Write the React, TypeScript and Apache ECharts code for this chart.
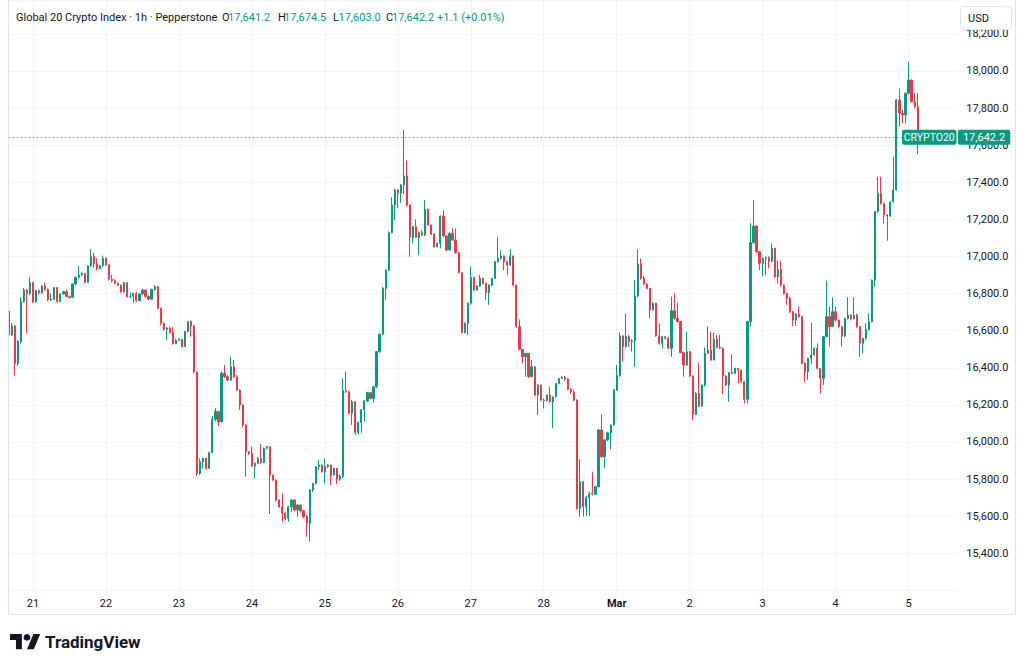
import React, { useEffect, useRef } from "react";
import * as echarts from "echarts";

// ---------- data (hourly candles; open = previous close) ----------
// each entry: [close, low, high]
const firstOpen = 16706;
const startUTC = Date.UTC(2025, 1, 20, 16); // first candle: 20 Feb 16:00

const feb20 = [
  [16577, 16570, 16712], [16625, 16570, 16640], [16424, 16356, 16630], [16541, 16410, 16550],
  [16757, 16530, 16780], [16819, 16750, 16830], [16801, 16586, 16825], [16859, 16790, 16888],
];
const feb21 = [
  [16757, 16750, 16862], [16815, 16750, 16822], [16805, 16795, 16822], [16841, 16798, 16845],
  [16822, 16815, 16858], [16766, 16760, 16828], [16770, 16760, 16800], [16832, 16765, 16836],
  [16757, 16750, 16835], [16798, 16755, 16800], [16810, 16795, 16815], [16785, 16780, 16823],
  [16780, 16772, 16790], [16852, 16775, 16855], [16888, 16846, 16892], [16900, 16880, 16949],
  [16909, 16895, 16915], [16860, 16855, 16912], [16949, 16858, 16952], [16999, 16945, 17039],
  [16960, 16940, 17020], [16935, 16925, 16990], [16950, 16930, 16955], [16990, 16945, 17005],
];
const feb22 = [
  [16955, 16950, 16995], [16877, 16870, 16958], [16870, 16860, 16900], [16855, 16850, 16878],
  [16846, 16840, 16860], [16810, 16805, 16848], [16859, 16805, 16862], [16783, 16778, 16862],
  [16785, 16775, 16805], [16801, 16751, 16805], [16762, 16755, 16810], [16798, 16760, 16800],
  [16819, 16795, 16825], [16785, 16778, 16820], [16770, 16765, 16790], [16823, 16768, 16826],
  [16837, 16815, 16845], [16721, 16715, 16840], [16640, 16630, 16725], [16607, 16600, 16645],
  [16615, 16550, 16620], [16590, 16585, 16620], [16530, 16525, 16618], [16548, 16528, 16555],
];
const feb23 = [
  [16553, 16545, 16558], [16514, 16510, 16555], [16595, 16512, 16600], [16649, 16590, 16652],
  [16625, 16568, 16655], [16377, 16370, 16630], [15831, 15817, 16380], [15894, 15822, 15912],
  [15912, 15858, 15915], [15858, 15849, 15915], [15943, 15855, 15948], [16122, 15940, 16140],
  [16164, 16110, 16182], [16110, 16086, 16164], [16370, 16105, 16379], [16352, 16345, 16415],
  [16334, 16328, 16360], [16406, 16330, 16460], [16352, 16345, 16442], [16280, 16275, 16361],
  [16200, 16173, 16285], [16092, 16079, 16205], [15948, 15813, 16095], [15939, 15930, 15950],
];
const feb24 = [
  [15870, 15865, 15975], [15885, 15804, 15890], [15912, 15880, 15918], [15890, 15880, 15989],
  [15966, 15885, 15970], [15975, 15960, 15979], [15822, 15612, 15976], [15795, 15790, 15825],
  [15687, 15680, 15798], [15651, 15645, 15690], [15616, 15571, 15723], [15589, 15580, 15620],
  [15651, 15571, 15655], [15687, 15624, 15692], [15633, 15625, 15690], [15660, 15598, 15665],
  [15630, 15620, 15662], [15598, 15590, 15633], [15562, 15490, 15607], [15741, 15463, 15745],
  [15777, 15730, 15780], [15867, 15770, 15870], [15876, 15850, 15903], [15840, 15835, 15878],
];
const feb25 = [
  [15867, 15777, 15912], [15876, 15860, 15880], [15822, 15768, 15878], [15858, 15820, 15862],
  [15800, 15774, 15860], [15815, 15790, 15825], [16277, 15805, 16343], [16271, 16265, 16379],
  [16155, 16150, 16277], [16217, 16092, 16226], [16050, 16038, 16220], [16105, 16040, 16110],
  [16173, 16050, 16178], [16221, 16110, 16226], [16266, 16215, 16270], [16235, 16230, 16266],
  [16298, 16212, 16300], [16487, 16290, 16490], [16581, 16480, 16585], [16828, 16575, 16835],
  [16927, 16766, 16930], [17129, 16920, 17135], [17278, 17125, 17319], [17359, 17197, 17365],
];
const feb26 = [
  [17341, 17260, 17362], [17386, 17290, 17390], [17434, 17337, 17682], [17278, 17270, 17517],
  [17103, 16999, 17280], [17161, 17071, 17165], [17103, 17100, 17200], [17129, 17008, 17135],
  [17116, 17110, 17143], [17254, 17110, 17305], [17170, 17165, 17258], [17121, 17115, 17172],
  [17053, 17048, 17125], [17071, 17050, 17075], [17218, 17044, 17222], [17111, 17105, 17251],
  [17035, 17030, 17116], [17125, 17039, 17130], [17089, 17085, 17152], [17021, 17015, 17152],
  [16913, 16908, 17025], [16590, 16585, 16918], [16640, 16585, 16645], [16748, 16577, 16752],
];
const feb27 = [
  [16888, 16739, 16945], [16819, 16815, 16890], [16841, 16815, 16845], [16882, 16837, 16900],
  [16855, 16850, 16885], [16805, 16766, 16858], [16846, 16739, 16850], [16882, 16840, 16885],
  [16972, 16880, 16975], [16990, 16965, 17103], [17003, 16985, 17035], [16972, 16927, 17005],
  [16954, 16900, 16975], [17003, 16950, 17039], [16846, 16840, 17005], [16622, 16615, 16850],
  [16500, 16495, 16661], [16460, 16424, 16500], [16478, 16352, 16480], [16352, 16345, 16478],
  [16406, 16350, 16442], [16253, 16248, 16406], [16307, 16146, 16310], [16226, 16220, 16307],
];
const feb28 = [
  [16223, 16182, 16235], [16253, 16220, 16256], [16218, 16212, 16298], [16244, 16074, 16246],
  [16316, 16240, 16318], [16343, 16310, 16345], [16349, 16340, 16356], [16340, 16330, 16356],
  [16284, 16280, 16345], [16270, 16260, 16290], [16226, 16220, 16280], [15642, 15635, 16230],
  [15786, 15598, 15907], [15651, 15598, 15790], [15700, 15601, 15710], [15723, 15601, 15730],
  [15718, 15712, 15840], [15759, 15715, 15765], [16065, 15755, 16070], [15921, 15915, 16149],
  [16011, 15858, 16015], [16050, 16005, 16055], [16092, 15960, 16095], [16280, 16088, 16285],
];
const mar1 = [
  [16358, 16275, 16415], [16572, 16350, 16590], [16514, 16433, 16575], [16568, 16510, 16690],
  [16541, 16514, 16577], [16546, 16487, 16555], [16787, 16406, 16873], [16960, 16780, 17039],
  [16882, 16875, 16990], [16852, 16845, 16895], [16828, 16822, 16855], [16712, 16667, 16830],
  [16748, 16708, 16752], [16573, 16568, 16750], [16532, 16525, 16640], [16568, 16505, 16572],
  [16559, 16552, 16570], [16505, 16500, 16568], [16708, 16460, 16784], [16667, 16660, 16801],
  [16649, 16645, 16751], [16482, 16478, 16652], [16415, 16352, 16487], [16487, 16410, 16595],
];
const mar2 = [
  [16356, 16350, 16490], [16149, 16118, 16360], [16262, 16145, 16268], [16194, 16190, 16428],
  [16307, 16190, 16310], [16478, 16300, 16510], [16496, 16475, 16622], [16442, 16438, 16595],
  [16553, 16440, 16589], [16510, 16505, 16577], [16505, 16500, 16577], [16356, 16259, 16510],
  [16307, 16302, 16360], [16374, 16217, 16378], [16370, 16365, 16473], [16397, 16368, 16400],
  [16388, 16316, 16398], [16325, 16320, 16390], [16230, 16208, 16330], [16649, 16208, 16655],
  [17075, 16622, 17179], [17164, 17070, 17305], [17026, 17020, 17168], [16963, 16927, 17030],
];
const mar3 = [
  [16990, 16895, 16995], [16995, 16900, 17000], [16975, 16936, 17000], [17044, 16970, 17071],
  [16891, 16885, 17044], [16930, 16855, 16977], [16846, 16840, 16977], [16801, 16795, 16850],
  [16774, 16738, 16805], [16702, 16695, 16783], [16657, 16625, 16705], [16690, 16625, 16695],
  [16675, 16670, 16729], [16424, 16418, 16680], [16379, 16325, 16430], [16451, 16334, 16455],
  [16469, 16420, 16643], [16505, 16465, 16510], [16397, 16390, 16532], [16343, 16262, 16400],
  [16568, 16307, 16572], [16675, 16565, 16870], [16622, 16514, 16729], [16702, 16620, 16780],
];
const mar4 = [
  [16657, 16650, 16729], [16622, 16615, 16660], [16571, 16514, 16625], [16666, 16565, 16670],
  [16684, 16660, 16780], [16665, 16655, 16690], [16684, 16660, 16780], [16622, 16615, 16690],
  [16532, 16460, 16625], [16559, 16478, 16562], [16607, 16550, 16640], [16648, 16600, 16693],
  [16873, 16645, 16876], [17242, 16837, 17245], [17340, 17235, 17430], [17286, 17280, 17430],
  [17224, 17179, 17290], [17218, 17085, 17228], [17295, 17215, 17300], [17358, 17290, 17538],
  [17844, 17355, 17850], [17772, 17700, 17906], [17763, 17718, 17790], [17880, 17718, 17885],
];
const mar5 = [
  [17951, 17875, 18050], [17835, 17830, 17955], [17808, 17800, 17880], [17641.1, 17552, 17880],
];
const lastBar = { open: 17641.2, high: 17674.5, low: 17603.0, close: 17642.2 };
const prevClose = 17641.1;
const emptyTail = 12; // empty hourly slots right of the last bar

const yMin = 15200;
const yMax = 18382.7;
const yStep = 200;
const monthNames = ["Jan", "Feb", "Mar", "Apr", "May", "Jun", "Jul", "Aug", "Sep", "Oct", "Nov", "Dec"];

const title = "Global 20 Crypto Index · 1h · Pepperstone";
const symbolTag = "CRYPTO20";
const currency = "USD";

// ---------- styles ----------
const UP = "#089981";
const DOWN = "#F23645";
const GRID = "#f0f3fa";
const TEXT = "#131722";
const FONT = 'Roboto, "DejaVu Sans", sans-serif';

const LOGO_PATH = "M14 22H7V11H0V4h14v18zM28 22h-8l7.5-18h8L28 22z";
echarts.graphic.registerShape("tvlogo", echarts.graphic.extendPath(LOGO_PATH, {}));

const fmt = (v: number) =>
  v.toLocaleString("en-US", { minimumFractionDigits: 1, maximumFractionDigits: 1 });

function buildCandles() {
  const out: number[][] = [];
  let prev = firstOpen;
  const days = [feb20, feb21, feb22, feb23, feb24, feb25, feb26, feb27, feb28, mar1, mar2, mar3, mar4, mar5];
  for (const day of days) {
    for (const [c, l, h] of day) {
      out.push([prev, c, Math.min(l, prev, c), Math.max(h, prev, c)]);
      prev = c;
    }
  }
  out.push([lastBar.open, lastBar.close, lastBar.low, lastBar.high]);
  return out;
}

const candles = buildCandles();
const categories = Array.from({ length: candles.length + emptyTail }, (_, i) =>
  new Date(startUTC + i * 3600000).toISOString().slice(0, 13)
);
const isMidnight = (_i: number, v: string) => v.slice(11, 13) === "00";
const dayLabel = (v: string) => {
  const d = new Date(v + ":00:00Z");
  return d.getUTCDate() === 1 ? "{m|" + monthNames[d.getUTCMonth()] + "}" : String(d.getUTCDate());
};

function overlayGraphic(yc: number) {
  const t = (x: number, text: string, fill: string) => ({
    type: "text",
    x,
    y: 17,
    z: 50,
    style: { text, fill, font: "11px " + FONT, verticalAlign: "middle", align: "left" },
  });
  const ch = lastBar.close - prevClose;
  const pct = (ch / prevClose) * 100;
  const changeText = (ch >= 0 ? "+" : "") + ch.toFixed(1) + " (" + (pct >= 0 ? "+" : "") + pct.toFixed(2) + "%)";
  return [
    {
      type: "polyline",
      z: 40,
      shape: { points: [[8.5, -2], [8.5, 614.5], [1015.5, 614.5], [1015.5, -2]] },
      style: { stroke: "#e0e3eb", fill: null, lineWidth: 1 },
    },
    t(16, title, TEXT),
    t(222, "O", TEXT), t(228, fmt(lastBar.open), UP),
    t(278, "H", TEXT), t(284, fmt(lastBar.high), UP),
    t(333, "L", TEXT), t(338.5, fmt(lastBar.low), UP),
    t(386, "C", TEXT), t(392, fmt(lastBar.close), UP),
    t(437, changeText, UP),
    {
      type: "rect",
      z: 50,
      shape: { x: 960.5, y: 6.5, width: 51, height: 23, r: 4 },
      style: { fill: "#ffffff", stroke: "#e0e3eb", lineWidth: 1 },
    },
    {
      type: "text",
      z: 51,
      x: 968,
      y: 18,
      style: { text: currency, fill: TEXT, font: "11px " + FONT, verticalAlign: "middle", align: "left" },
    },
    {
      type: "rect",
      z: 50,
      shape: { x: 902, y: yc - 7.5, width: 54.5, height: 15, r: 2 },
      style: { fill: UP },
    },
    {
      type: "text",
      z: 51,
      x: 929.2,
      y: yc,
      style: { text: symbolTag, fill: "#ffffff", font: "10.5px " + FONT, verticalAlign: "middle", align: "center" },
    },
    {
      type: "rect",
      z: 50,
      shape: { x: 957.8, y: yc - 7.5, width: 52.5, height: 15, r: 2 },
      style: { fill: UP },
    },
    {
      type: "text",
      z: 51,
      x: 984,
      y: yc,
      style: { text: fmt(lastBar.close), fill: "#ffffff", font: "11px " + FONT, verticalAlign: "middle", align: "center" },
    },
    {
      type: "tvlogo",
      z: 50,
      x: 10,
      y: 630.6,
      scaleX: 0.85,
      scaleY: 0.85,
      style: { fill: TEXT },
    },
    {
      type: "circle",
      z: 50,
      shape: { cx: 27, cy: 637.4, r: 3.4 },
      style: { fill: TEXT },
    },
    {
      type: "text",
      z: 50,
      x: 45,
      y: 642,
      style: { text: "TradingView", fill: TEXT, font: "bold 17px " + FONT, verticalAlign: "middle", align: "left" },
    },
  ];
}

export default function App() {
  const ref = useRef<HTMLDivElement>(null);
  useEffect(() => {
    const chart = echarts.init(ref.current!, null, { renderer: "svg" });
    chart.setOption({
      animation: false,
      backgroundColor: "#ffffff",
      grid: { left: 8.68, right: 66.8, top: 0, bottom: 77.6, containLabel: false },
      xAxis: {
        type: "category",
        data: categories,
        boundaryGap: false,
        axisLine: { show: false },
        axisTick: { show: false },
        axisLabel: {
          interval: isMidnight,
          formatter: dayLabel,
          color: TEXT,
          fontSize: 11,
          fontFamily: FONT,
          margin: 8,
          rich: { m: { fontWeight: "bold", fontSize: 11, fontFamily: FONT, color: TEXT } },
        },
        splitLine: { show: true, interval: isMidnight, lineStyle: { color: GRID, width: 1 } },
      },
      yAxis: {
        type: "value",
        position: "right",
        min: yMin,
        max: yMax,
        interval: yStep,
        axisLine: { show: false },
        axisTick: { show: false },
        axisLabel: {
          showMinLabel: false,
          showMaxLabel: false,
          align: "left",
          margin: 9,
          color: TEXT,
          fontSize: 11,
          fontFamily: FONT,
          formatter: (v: number) => fmt(v),
        },
        splitLine: { show: true, lineStyle: { color: GRID, width: 1 } },
      },
      series: [
        {
          type: "candlestick",
          data: candles,
          barWidth: 1.7,
          clip: false,
          itemStyle: {
            color: UP,
            color0: DOWN,
            borderColor: UP,
            borderColor0: DOWN,
            borderWidth: 1,
          },
          markLine: {
            silent: true,
            animation: false,
            symbol: ["none", "none"],
            label: { show: false },
            lineStyle: { color: UP, type: [1.5, 2.5], width: 1, opacity: 0.8 },
            data: [{ yAxis: lastBar.close }],
          },
        },
      ],
    });
    const yc = chart.convertToPixel({ yAxisIndex: 0 }, lastBar.close) as number;
    chart.setOption({ graphic: overlayGraphic(yc) });
    return () => chart.dispose();
  }, []);
  return (
    <div
      ref={ref}
      style={{ position: "absolute", left: 0, top: 0, width: 1024, height: 668, background: "#fff" }}
    />
  );
}
